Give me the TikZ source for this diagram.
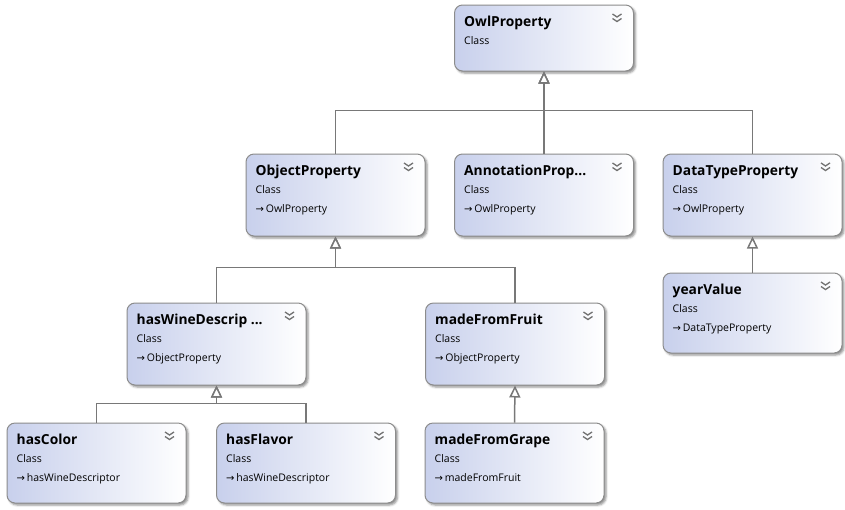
\documentclass[tikz,border=0pt]{standalone}
\usepackage{fontspec}
\setmainfont{Open Sans}
\newfontfamily\symf{DejaVu Sans}
\usetikzlibrary{arrows.meta,shadows.blur,calc}
\definecolor{boxleft}{RGB}{200,208,236}
\definecolor{boxline}{RGB}{140,140,140}
\definecolor{conn}{RGB}{120,120,120}
\definecolor{chevc}{RGB}{115,115,115}
\tikzset{
  cls/.style={draw=boxline, line width=1pt, rounded corners=8pt,
    left color=boxleft, right color=white, minimum width=179pt,
    minimum height=82pt, inner sep=0pt,
    blur shadow={shadow xshift=2pt, shadow yshift=-2pt, shadow blur steps=4, shadow opacity=45}},
  ttl/.style={anchor=base west, font=\bfseries\fontsize{13.8}{15}\selectfont, inner sep=0pt},
  sub/.style={anchor=base west, font=\fontsize{10.5}{12}\selectfont, inner sep=0pt},
  inh/.style={draw=conn, line width=1.5pt, -{Triangle[open, length=12pt, width=11pt, fill=white]}},
  chev/.style={draw=chevc, line width=1.3pt}
}
\newcommand{\umlhead}[3]{% name, height, title
  \node[ttl] (#1-t) at ($(#1.north west)+(10,22)$) {#3};
  \node[sub] (#1-c) at ($(#1.north west)+(10,40)$) {Class};
  \draw[chev] ($(#1.north east)+(-21.5,9.5)$) -- ++(4.5,3) -- ++(4.5,-3);
  \draw[chev] ($(#1.north east)+(-21.5,14)$) -- ++(4.5,3) -- ++(4.5,-3);
}
\newcommand{\umlbox}[6]{% name, x, y, height, title, parent
  \node[cls, minimum height=#4pt] (#1) at (#2,#3) {};
  \umlhead{#1}{#4}{#5}
  \node[sub] (#1-p) at ($(#1.north west)+(10,59)$) {{\symf\fontsize{10}{10}\selectfont→}\,#6};
}
\begin{document}
\begin{tikzpicture}[x=1pt,y=-1pt]
\useasboundingbox (0,0) rectangle (845,509);
% root
\node[cls, minimum height=66pt] (owl) at (544,38) {};
\umlhead{owl}{66}{OwlProperty}
% level 1
\umlbox{obj}{335.5}{195}{82}{ObjectProperty}{OwlProperty}
\umlbox{ann}{544}{195}{82}{AnnotationProp...}{OwlProperty}
\umlbox{dtp}{752.5}{195}{82}{DataTypeProperty}{OwlProperty}
% level 2
\umlbox{yv}{752.5}{313}{80}{yearValue}{DataTypeProperty}
\umlbox{hwd}{216.5}{344}{82}{hasWineDescrip ...}{ObjectProperty}
\umlbox{mff}{515}{344}{82}{madeFromFruit}{ObjectProperty}
% level 3
\umlbox{hc}{96.5}{463}{80}{hasColor}{hasWineDescriptor}
\umlbox{hf}{306}{463}{80}{hasFlavor}{hasWineDescriptor}
\umlbox{mfg}{514.5}{463}{80}{madeFromGrape}{madeFromFruit}
% buses
\coordinate (b1) at ($(owl.south)+(0,39)$);
\coordinate (b2) at ($(obj.south)+(0,31)$);
\coordinate (b3) at ($(hwd.south)+(0,18)$);
% connectors
\draw[inh] (obj.north) |- (b1) -- (owl.south);
\draw[inh] (dtp.north) |- (b1) -- (owl.south);
\draw[inh] (ann.north) -- (owl.south);
\draw[inh] (hwd.north) |- (b2) -- (obj.south);
\draw[inh] (mff.north) |- (b2) -- (obj.south);
\draw[inh] (yv.north) -- (dtp.south);
\draw[inh] (hc.north) |- (b3) -- (hwd.south);
\draw[inh] (hf.north) |- (b3) -- (hwd.south);
\draw[inh] (mfg.north) -- (mff.south);
\end{tikzpicture}
\end{document}
